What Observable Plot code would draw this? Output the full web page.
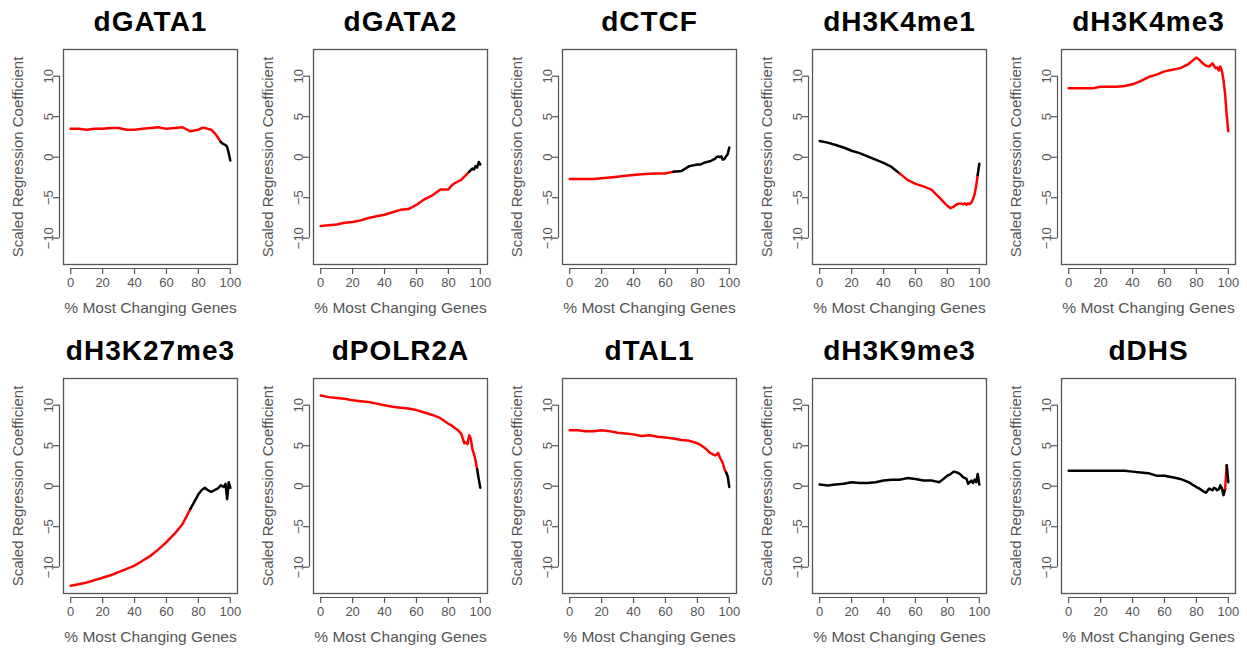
<!DOCTYPE html>
<html><head><meta charset="utf-8">
<script src="https://cdn.jsdelivr.net/npm/d3@7"></script>
<script src="https://cdn.jsdelivr.net/npm/@observablehq/plot@0.6"></script>
<style>
body{margin:0;background:#fff;}
#wrap{position:relative;width:1247px;height:649px;overflow:hidden;background:#fff;}
.panel{position:absolute;}
</style></head><body><div id="wrap"></div>
<script>
// x positions (% most changing genes)
const xs = [0,5,10,15,20,25,30,35,40,45,50,55,60,65,70,75,80,82,84,86,88,90,91,92,93,94,95,96,97,98,99,100];
const xTicks = [0,20,40,60,80,100];
const yTicks = [-10,-5,0,5,10];
const titles = ["dGATA1","dGATA2","dCTCF","dH3K4me1","dH3K4me3","dH3K27me3","dPOLR2A","dTAL1","dH3K9me3","dDHS"];

// scaled regression coefficients
const dGATA1 = [3.5,3.5,3.4,3.5,3.5,3.6,3.6,3.4,3.4,3.5,3.6,3.7,3.5,3.6,3.7,3.2,3.4,3.6,3.6,3.5,3.4,3.0,2.8,2.5,2.2,1.9,1.7,1.6,1.5,1.3,0.5,-0.4];
const dGATA2 = [-8.5,-8.4,-8.3,-8.1,-8.0,-7.8,-7.5,-7.3,-7.1,-6.8,-6.5,-6.4,-5.9,-5.2,-4.7,-4.0,-4.0,-3.5,-3.2,-3.0,-2.8,-2.4,-2.2,-2.0,-1.8,-1.6,-1.4,-1.5,-1.1,-1.3,-0.6,-0.9];
const dCTCF = [-2.7,-2.7,-2.7,-2.7,-2.6,-2.5,-2.4,-2.3,-2.2,-2.1,-2.05,-2.0,-2.0,-1.8,-1.7,-1.1,-0.9,-0.9,-0.7,-0.6,-0.5,-0.3,-0.2,0.0,0.1,0.0,0.1,-0.3,-0.2,0.1,0.4,1.2];
const dH3K4me1 = [2.0,1.8,1.5,1.2,0.8,0.5,0.1,-0.3,-0.7,-1.2,-2.0,-2.8,-3.3,-3.6,-4.0,-5.0,-6.0,-6.3,-6.1,-5.8,-5.7,-5.8,-5.7,-5.9,-5.7,-5.8,-5.6,-5.2,-4.6,-3.6,-2.2,-0.8];
const dH3K4me3 = [8.5,8.5,8.5,8.5,8.7,8.7,8.7,8.8,9.0,9.4,9.9,10.2,10.6,10.8,11.0,11.5,12.3,12.0,11.6,11.3,11.2,11.6,11.3,11.0,11.1,10.7,11.2,10.6,9.5,7.8,5.2,3.2];
const dH3K27me3 = [-12.3,-12.1,-11.9,-11.6,-11.3,-11.0,-10.6,-10.2,-9.8,-9.2,-8.6,-7.8,-6.9,-5.9,-4.7,-2.8,-1.0,-0.5,-0.2,-0.5,-0.7,-0.5,-0.4,-0.3,-0.1,0.1,0.0,-0.1,0.3,-1.6,0.5,-0.2];
const dPOLR2A = [11.2,11.0,10.9,10.8,10.6,10.5,10.4,10.2,10.0,9.8,9.7,9.6,9.4,9.1,8.8,8.4,7.7,7.5,7.2,6.9,6.5,5.3,5.4,5.2,6.3,5.9,4.6,4.0,3.2,2.1,0.9,-0.2];
const dTAL1 = [6.9,6.9,6.8,6.8,6.9,6.8,6.6,6.5,6.4,6.2,6.3,6.1,6.0,5.9,5.7,5.6,5.3,5.1,4.8,4.5,4.1,3.9,3.8,3.9,4.1,3.6,3.2,2.8,2.1,1.7,1.2,-0.1];
const dH3K9me3 = [0.2,0.1,0.2,0.3,0.5,0.4,0.4,0.5,0.7,0.8,0.8,1.0,0.9,0.7,0.7,0.5,1.3,1.5,1.8,1.7,1.5,1.1,1.0,0.9,0.3,0.5,0.7,0.4,0.8,0.5,1.5,0.2];
const dDHS = [1.9,1.9,1.9,1.9,1.9,1.9,1.9,1.9,1.8,1.7,1.6,1.3,1.3,1.1,0.9,0.5,-0.1,-0.3,-0.6,-0.8,-0.3,-0.5,-0.2,-0.3,-0.5,-0.4,0.1,-0.3,-1.1,-0.3,2.6,0.5];

// x-ranges where the coefficient is significant (drawn red)
const sigGATA1 = [[0,94]];
const sigGATA2 = [[0,93]];
const sigCTCF = [[0,64]];
const sigH3K4me1 = [[48,99.2]];
const sigH3K4me3 = [[0,100]];
const sigH3K27me3 = [[0,76]];
const sigPOLR2A = [[0,98]];
const sigTAL1 = [[0,97.5]];
const sigH3K9me3 = [];
const sigDHS = [[98.4,98.6]];

const series = [dGATA1,dGATA2,dCTCF,dH3K4me1,dH3K4me3,dH3K27me3,dPOLR2A,dTAL1,dH3K9me3,dDHS];
const sigs = [sigGATA1,sigGATA2,sigCTCF,sigH3K4me1,sigH3K4me3,sigH3K27me3,sigPOLR2A,sigTAL1,sigH3K9me3,sigDHS];

function segments(vals, ranges){
  const out = [];
  let seg = 0, prev = null;
  for (let i = 0; i < xs.length - 1; i++) {
    const mid = (xs[i] + xs[i+1]) / 2;
    const color = ranges.some(([a,b]) => mid >= a && mid <= b) ? "#ff0000" : "#000000";
    if (color !== prev) { seg++; out.push({x: xs[i], y: vals[i], seg, color}); }
    out.push({x: xs[i+1], y: vals[i+1], seg, color});
    prev = color;
  }
  return out;
}

const xDom = [-4.5, 104.5];
const yDom = [-13.25, 13.3];
const grey = "#555";
const wrap = document.getElementById("wrap");

titles.forEach((title, k) => {
  const r = Math.floor(k / 5), c = k % 5;
  const data = segments(series[k], sigs[k]);
  const chart = Plot.plot({
    width: 249, height: 320,
    marginTop: 49, marginBottom: 56, marginLeft: 63, marginRight: 12,
    x: {domain: xDom},
    y: {domain: yDom},
    color: {type: "identity"},
    style: {fontFamily: "'Liberation Sans', Arial, sans-serif", color: grey, background: "transparent", overflow: "visible"},
    marks: [
      Plot.frame({stroke: grey, strokeWidth: 1.3}),
      Plot.ruleY([yDom[0]], {x1: xTicks[0], x2: xTicks[xTicks.length-1], dy: 4, stroke: grey, strokeWidth: 1.2}),
      Plot.axisX({ticks: xTicks, tickSize: 6, dy: 4, tickPadding: 3, fontSize: 13, label: null, strokeWidth: 1.2}),
      Plot.ruleX([xDom[0]], {y1: yTicks[0], y2: yTicks[yTicks.length-1], dx: -4, stroke: grey, strokeWidth: 1.2}),
      Plot.axisY({ticks: yTicks, tickSize: 6, dx: -4, tickRotate: -90, tickPadding: 1, fontSize: 13, label: null, strokeWidth: 1.2}),
      Plot.line(data, {x: "x", y: "y", z: "seg", stroke: "color", strokeWidth: 2.5, strokeLinejoin: "round"}),
      Plot.text([title], {frameAnchor: "top", lineAnchor: "middle", textAnchor: "middle", dy: -27, fontSize: 28, fontWeight: "bold", fill: "black"}),
      Plot.text(["% Most Changing Genes"], {frameAnchor: "bottom", lineAnchor: "middle", textAnchor: "middle", dy: 44, fontSize: 15.5, fill: grey}),
      Plot.text(["Scaled Regression Coefficient"], {frameAnchor: "left", lineAnchor: "middle", textAnchor: "middle", rotate: -90, dx: -45, fontSize: 15, fill: grey})
    ]
  });
  chart.classList.add("panel");
  chart.style.left = (c * 249.5) + "px";
  chart.style.top = (r * 329) + "px";
  // widen the bold titles slightly, as in the original
  chart.querySelectorAll("text").forEach(t => { if (t.textContent === title) t.style.letterSpacing = "1px"; });
  wrap.appendChild(chart);
});
</script>
</body></html>
